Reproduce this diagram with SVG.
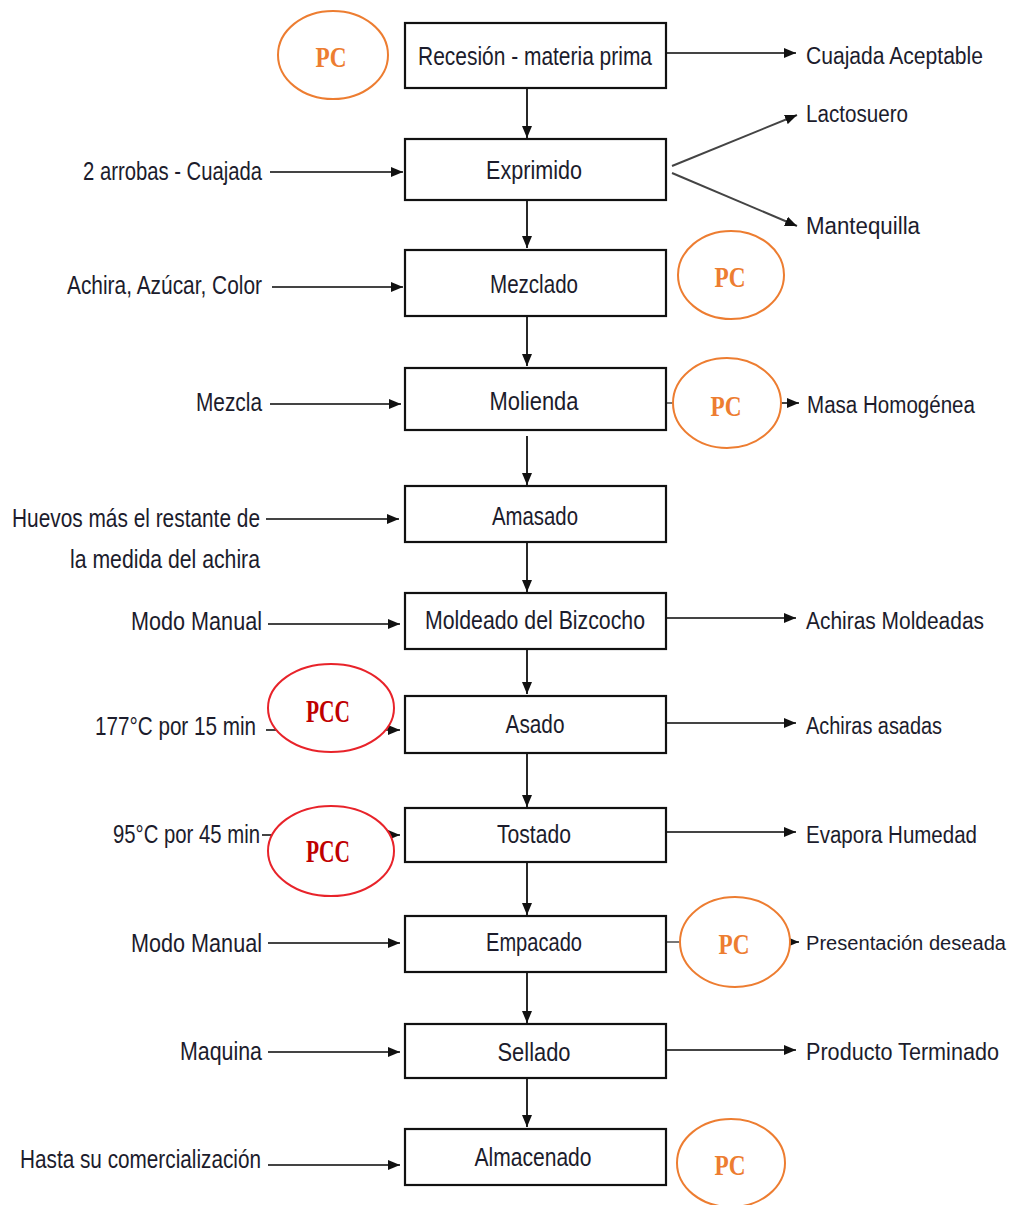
<svg xmlns="http://www.w3.org/2000/svg" width="1021" height="1205" viewBox="0 0 1021 1205">
  <style>
    .box { fill: #ffffff; stroke: #111111; stroke-width: 2.2; }
    .lbl { font-family: "Liberation Sans", Arial, sans-serif; font-size: 26px; fill: #1c1c2c; }
    .out { font-size: 23px; }
    .out.small { font-size: 20px; }
    .mid { text-anchor: middle; }
    .end { text-anchor: end; }
    .flow { stroke: #111111; stroke-width: 1.8; fill: none; marker-end: url(#arrow); }
    .side { stroke: #444444; stroke-width: 2; fill: none; marker-end: url(#arrow); }
    .link { stroke: #777777; stroke-width: 2; fill: none; }
    .pc { fill: #ffffff; stroke: #ED7D31; stroke-width: 2; }
    .pcc { fill: #ffffff; stroke: #E8232A; stroke-width: 2; }
    .pct { font-family: "Liberation Serif", "Times New Roman", serif; font-weight: bold; font-size: 30px; fill: #ED7D31; text-anchor: middle; }
    .pcct { font-family: "Liberation Serif", "Times New Roman", serif; font-weight: bold; font-size: 32px; fill: #C00000; text-anchor: middle; }
  </style>
  <defs>
    <marker id="arrow" viewBox="0 0 12 10" refX="12" refY="5" markerWidth="12" markerHeight="10" markerUnits="userSpaceOnUse" orient="auto">
      <path d="M0,0 L12,5 L0,10 Z" fill="#111111"/>
    </marker>
  </defs>
  <rect width="1021" height="1205" fill="#ffffff"/>

  <!-- connectors -->
  <g id="connectors">
    <!-- main vertical flow -->
    <line class="flow" x1="527" y1="88" x2="527" y2="138"/>
    <line class="flow" x1="527" y1="200" x2="527" y2="248"/>
    <line class="flow" x1="527" y1="316" x2="527" y2="366"/>
    <line class="flow" x1="527" y1="436" x2="527" y2="485"/>
    <line class="flow" x1="527" y1="542" x2="527" y2="592"/>
    <line class="flow" x1="527" y1="649" x2="527" y2="694"/>
    <line class="flow" x1="527" y1="753" x2="527" y2="807"/>
    <line class="flow" x1="527" y1="862" x2="527" y2="915"/>
    <line class="flow" x1="527" y1="972" x2="527" y2="1023"/>
    <line class="flow" x1="527" y1="1078" x2="527" y2="1127"/>

    <!-- inputs from the left -->
    <line class="side" x1="270" y1="172" x2="403" y2="172"/>
    <line class="side" x1="272" y1="287" x2="403" y2="287"/>
    <line class="side" x1="270" y1="404" x2="401" y2="404"/>
    <line class="side" x1="266" y1="519" x2="399" y2="519"/>
    <line class="side" x1="268" y1="624" x2="400" y2="624"/>
    <line class="side" x1="266" y1="730" x2="400" y2="730"/>
    <line class="side" x1="262" y1="835" x2="400" y2="835"/>
    <line class="side" x1="268" y1="943" x2="400" y2="943"/>
    <line class="side" x1="268" y1="1052" x2="400" y2="1052"/>
    <line class="side" x1="268" y1="1165" x2="400" y2="1165"/>

    <!-- outputs to the right -->
    <line class="side" x1="666" y1="53" x2="796" y2="53"/>
    <line class="side" x1="672" y1="166" x2="797" y2="115"/>
    <line class="side" x1="672" y1="173" x2="797" y2="226"/>
    <line class="link" x1="666" y1="403" x2="674" y2="403"/>
    <line class="side" x1="781" y1="403" x2="799" y2="403"/>
    <line class="side" x1="666" y1="618" x2="796" y2="618"/>
    <line class="side" x1="666" y1="723" x2="796" y2="723"/>
    <line class="side" x1="666" y1="832" x2="796" y2="832"/>
    <line class="link" x1="666" y1="942" x2="681" y2="942"/>
    <line class="side" x1="789" y1="942" x2="799" y2="942"/>
    <line class="side" x1="666" y1="1050" x2="796" y2="1050"/>
  </g>

  <!-- process steps -->
  <g id="recesion">
    <rect class="box" x="405" y="23" width="261" height="65"/>
    <text class="lbl mid" x="535" y="65" textLength="234" lengthAdjust="spacingAndGlyphs">Recesión - materia prima</text>
  </g>
  <g id="exprimido">
    <rect class="box" x="405" y="139" width="261" height="61"/>
    <text class="lbl mid" x="534" y="179" textLength="96" lengthAdjust="spacingAndGlyphs">Exprimido</text>
  </g>
  <g id="mezclado">
    <rect class="box" x="405" y="250" width="261" height="66"/>
    <text class="lbl mid" x="534" y="293" textLength="88" lengthAdjust="spacingAndGlyphs">Mezclado</text>
  </g>
  <g id="molienda">
    <rect class="box" x="405" y="368" width="261" height="62"/>
    <text class="lbl mid" x="534" y="410" textLength="89" lengthAdjust="spacingAndGlyphs">Molienda</text>
  </g>
  <g id="amasado">
    <rect class="box" x="405" y="486" width="261" height="56"/>
    <text class="lbl mid" x="535" y="525" textLength="86" lengthAdjust="spacingAndGlyphs">Amasado</text>
  </g>
  <g id="moldeado">
    <rect class="box" x="405" y="593" width="261" height="56"/>
    <text class="lbl mid" x="535" y="629" textLength="220" lengthAdjust="spacingAndGlyphs">Moldeado del Bizcocho</text>
  </g>
  <g id="asado">
    <rect class="box" x="405" y="696" width="261" height="57"/>
    <text class="lbl mid" x="535" y="733" textLength="59" lengthAdjust="spacingAndGlyphs">Asado</text>
  </g>
  <g id="tostado">
    <rect class="box" x="405" y="808" width="261" height="54"/>
    <text class="lbl mid" x="534" y="843" textLength="74" lengthAdjust="spacingAndGlyphs">Tostado</text>
  </g>
  <g id="empacado">
    <rect class="box" x="405" y="916" width="261" height="56"/>
    <text class="lbl mid" x="534" y="951" textLength="96" lengthAdjust="spacingAndGlyphs">Empacado</text>
  </g>
  <g id="sellado">
    <rect class="box" x="405" y="1024" width="261" height="54"/>
    <text class="lbl mid" x="534" y="1061" textLength="73" lengthAdjust="spacingAndGlyphs">Sellado</text>
  </g>
  <g id="almacenado">
    <rect class="box" x="405" y="1129" width="261" height="56"/>
    <text class="lbl mid" x="533" y="1166" textLength="117" lengthAdjust="spacingAndGlyphs">Almacenado</text>
  </g>

  <!-- inputs -->
  <g id="in-exprimido"><text class="lbl end" x="262" y="180" textLength="179" lengthAdjust="spacingAndGlyphs">2 arrobas - Cuajada</text></g>
  <g id="in-mezclado"><text class="lbl end" x="262" y="294" textLength="195" lengthAdjust="spacingAndGlyphs">Achira, Azúcar, Color</text></g>
  <g id="in-molienda"><text class="lbl end" x="262" y="411" textLength="66" lengthAdjust="spacingAndGlyphs">Mezcla</text></g>
  <g id="in-amasado">
    <text class="lbl end" x="260" y="527" textLength="248" lengthAdjust="spacingAndGlyphs">Huevos más el restante de</text>
    <text class="lbl end" x="260" y="568" textLength="190" lengthAdjust="spacingAndGlyphs">la medida del achira</text>
  </g>
  <g id="in-moldeado"><text class="lbl end" x="262" y="630" textLength="131" lengthAdjust="spacingAndGlyphs">Modo Manual</text></g>
  <g id="in-asado"><text class="lbl end" x="256" y="735" textLength="161" lengthAdjust="spacingAndGlyphs">177°C  por 15 min</text></g>
  <g id="in-tostado"><text class="lbl end" x="260" y="843" textLength="147" lengthAdjust="spacingAndGlyphs">95°C por 45 min</text></g>
  <g id="in-empacado"><text class="lbl end" x="262" y="952" textLength="131" lengthAdjust="spacingAndGlyphs">Modo Manual</text></g>
  <g id="in-sellado"><text class="lbl end" x="262" y="1060" textLength="82" lengthAdjust="spacingAndGlyphs">Maquina</text></g>
  <g id="in-almacenado"><text class="lbl end" x="261" y="1168" textLength="241" lengthAdjust="spacingAndGlyphs">Hasta su comercialización</text></g>

  <!-- outputs -->
  <g id="out-recesion"><text class="lbl out" x="806" y="64" textLength="177" lengthAdjust="spacingAndGlyphs">Cuajada Aceptable</text></g>
  <g id="out-lactosuero"><text class="lbl out" x="806" y="122" textLength="102" lengthAdjust="spacingAndGlyphs">Lactosuero</text></g>
  <g id="out-mantequilla"><text class="lbl out" x="806" y="234" textLength="114" lengthAdjust="spacingAndGlyphs">Mantequilla</text></g>
  <g id="out-molienda"><text class="lbl out" x="807" y="413" textLength="168" lengthAdjust="spacingAndGlyphs">Masa Homogénea</text></g>
  <g id="out-moldeado"><text class="lbl out" x="806" y="629" textLength="178" lengthAdjust="spacingAndGlyphs">Achiras Moldeadas</text></g>
  <g id="out-asado"><text class="lbl out" x="806" y="734" textLength="136" lengthAdjust="spacingAndGlyphs">Achiras asadas</text></g>
  <g id="out-tostado"><text class="lbl out" x="806" y="843" textLength="171" lengthAdjust="spacingAndGlyphs">Evapora Humedad</text></g>
  <g id="out-empacado"><text class="lbl out small" x="806" y="950" textLength="200" lengthAdjust="spacingAndGlyphs">Presentación deseada</text></g>
  <g id="out-sellado"><text class="lbl out" x="806" y="1060" textLength="193" lengthAdjust="spacingAndGlyphs">Producto Terminado</text></g>

  <!-- control points -->
  <g id="pc-recesion">
    <ellipse class="pc" cx="333" cy="55" rx="55" ry="44"/>
    <text class="pct" x="331" y="67" textLength="31" lengthAdjust="spacingAndGlyphs">PC</text>
  </g>
  <g id="pc-mezclado">
    <ellipse class="pc" cx="731" cy="275" rx="53" ry="44"/>
    <text class="pct" x="730" y="287" textLength="31" lengthAdjust="spacingAndGlyphs">PC</text>
  </g>
  <g id="pc-molienda">
    <ellipse class="pc" cx="727" cy="403" rx="54" ry="45"/>
    <text class="pct" x="726" y="416" textLength="31" lengthAdjust="spacingAndGlyphs">PC</text>
  </g>
  <g id="pcc-asado">
    <ellipse class="pcc" cx="331" cy="708" rx="63" ry="44"/>
    <text class="pcct" x="328" y="722" textLength="44" lengthAdjust="spacingAndGlyphs">PCC</text>
  </g>
  <g id="pcc-tostado">
    <ellipse class="pcc" cx="331" cy="851" rx="63" ry="45"/>
    <text class="pcct" x="328" y="862" textLength="44" lengthAdjust="spacingAndGlyphs">PCC</text>
  </g>
  <g id="pc-empacado">
    <ellipse class="pc" cx="735" cy="942" rx="55" ry="45"/>
    <text class="pct" x="734" y="954" textLength="31" lengthAdjust="spacingAndGlyphs">PC</text>
  </g>
  <g id="pc-almacenado">
    <ellipse class="pc" cx="731" cy="1163" rx="54" ry="44"/>
    <text class="pct" x="730" y="1175" textLength="31" lengthAdjust="spacingAndGlyphs">PC</text>
  </g>
</svg>
